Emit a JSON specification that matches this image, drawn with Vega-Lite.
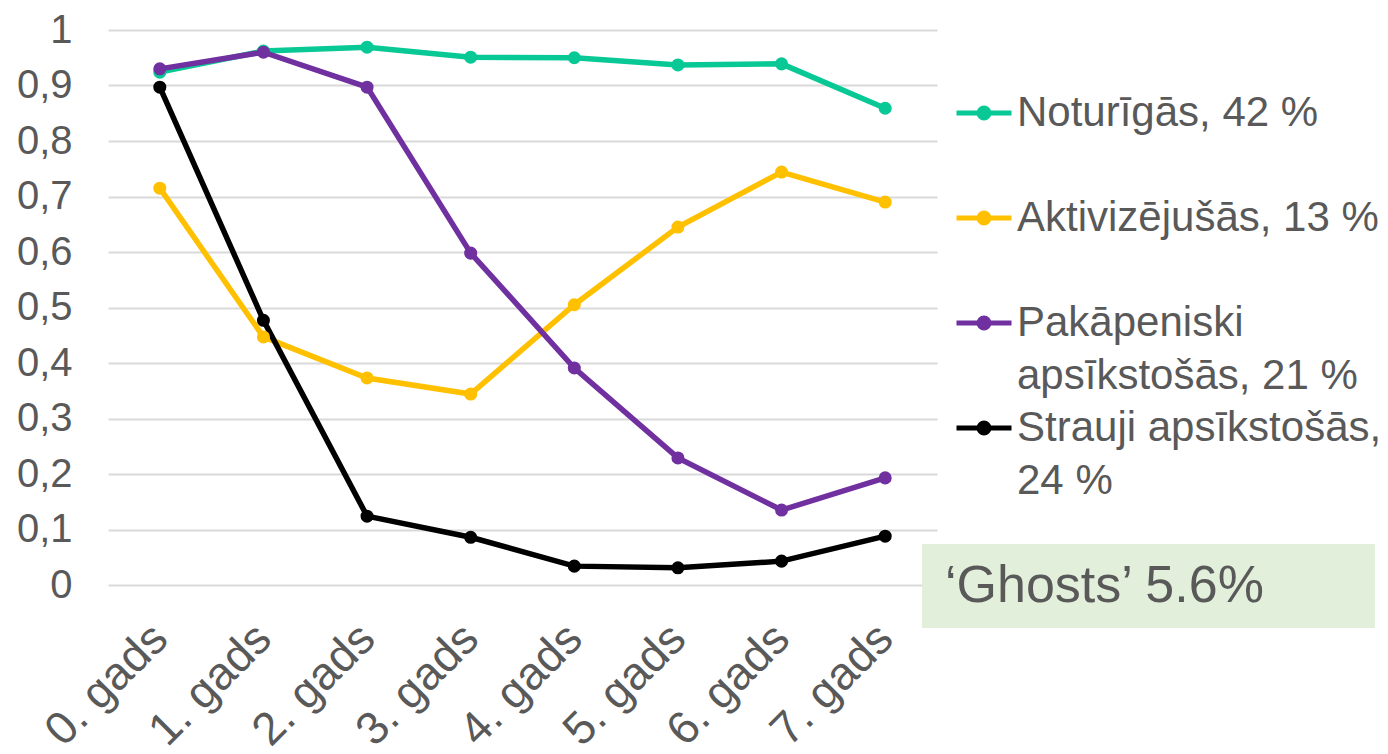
{
  "$schema": "https://vega.github.io/schema/vega-lite/v6.json",
  "width": 829,
  "height": 555,
  "autosize": {"type": "none"},
  "padding": {"left": 108, "top": 30, "right": 451, "bottom": 169},
  "background": "white",
  "config": {
    "view": {"stroke": null},
    "font": "Liberation Sans",
    "legend": {"layout": {"right": {"direction": "vertical", "anchor": "start", "margin": 10}}}
  },
  "layer": [
    {
      "data": {"name": "main", "values": [
        {"year": "0. gads", "series": "Noturīgās, 42 %", "value": 0.924},
        {"year": "1. gads", "series": "Noturīgās, 42 %", "value": 0.962},
        {"year": "2. gads", "series": "Noturīgās, 42 %", "value": 0.969},
        {"year": "3. gads", "series": "Noturīgās, 42 %", "value": 0.951},
        {"year": "4. gads", "series": "Noturīgās, 42 %", "value": 0.950},
        {"year": "5. gads", "series": "Noturīgās, 42 %", "value": 0.937},
        {"year": "6. gads", "series": "Noturīgās, 42 %", "value": 0.939},
        {"year": "7. gads", "series": "Noturīgās, 42 %", "value": 0.859},
        {"year": "0. gads", "series": "Aktivizējušās, 13 %", "value": 0.715},
        {"year": "1. gads", "series": "Aktivizējušās, 13 %", "value": 0.447},
        {"year": "2. gads", "series": "Aktivizējušās, 13 %", "value": 0.373},
        {"year": "3. gads", "series": "Aktivizējušās, 13 %", "value": 0.344},
        {"year": "4. gads", "series": "Aktivizējušās, 13 %", "value": 0.505},
        {"year": "5. gads", "series": "Aktivizējušās, 13 %", "value": 0.645},
        {"year": "6. gads", "series": "Aktivizējušās, 13 %", "value": 0.744},
        {"year": "7. gads", "series": "Aktivizējušās, 13 %", "value": 0.690},
        {"year": "0. gads", "series": "Pakāpeniski apsīkstošās, 21 %", "value": 0.930},
        {"year": "1. gads", "series": "Pakāpeniski apsīkstošās, 21 %", "value": 0.960},
        {"year": "2. gads", "series": "Pakāpeniski apsīkstošās, 21 %", "value": 0.897},
        {"year": "3. gads", "series": "Pakāpeniski apsīkstošās, 21 %", "value": 0.598},
        {"year": "4. gads", "series": "Pakāpeniski apsīkstošās, 21 %", "value": 0.391},
        {"year": "5. gads", "series": "Pakāpeniski apsīkstošās, 21 %", "value": 0.229},
        {"year": "6. gads", "series": "Pakāpeniski apsīkstošās, 21 %", "value": 0.135},
        {"year": "7. gads", "series": "Pakāpeniski apsīkstošās, 21 %", "value": 0.193},
        {"year": "0. gads", "series": "Strauji apsīkstošās, 24 %", "value": 0.897},
        {"year": "1. gads", "series": "Strauji apsīkstošās, 24 %", "value": 0.477},
        {"year": "2. gads", "series": "Strauji apsīkstošās, 24 %", "value": 0.124},
        {"year": "3. gads", "series": "Strauji apsīkstošās, 24 %", "value": 0.086},
        {"year": "4. gads", "series": "Strauji apsīkstošās, 24 %", "value": 0.034},
        {"year": "5. gads", "series": "Strauji apsīkstošās, 24 %", "value": 0.031},
        {"year": "6. gads", "series": "Strauji apsīkstošās, 24 %", "value": 0.043},
        {"year": "7. gads", "series": "Strauji apsīkstošās, 24 %", "value": 0.088}
      ]},
      "layer": [
        {
          "mark": {"type": "line", "strokeWidth": 5.5},
          "encoding": {
            "x": {"field": "year", "type": "nominal", "sort": null,
              "axis": {"title": null, "labelAngle": -45, "labelAlign": "right", "labelBaseline": "middle", "labelFontSize": 46, "labelColor": "#595959", "ticks": false, "domain": false, "grid": false, "labelPadding": 46}},
            "y": {"field": "value", "type": "quantitative", "scale": {"domain": [0, 1], "nice": false},
              "axis": {"title": null, "values": [0, 0.1, 0.2, 0.3, 0.4, 0.5, 0.6, 0.7, 0.8, 0.9, 1], "labelExpr": "replace(format(datum.value, '.1~f'), '.', ',')", "labelFontSize": 40, "labelColor": "#595959", "labelPadding": 36, "ticks": false, "tickSize": 0, "domain": false, "grid": true, "gridColor": "#d9d9d9", "gridWidth": 2}},
            "color": {"field": "series", "type": "nominal",
              "scale": {"domain": ["Noturīgās, 42 %", "Aktivizējušās, 13 %", "Pakāpeniski apsīkstošās, 21 %", "Strauji apsīkstošās, 24 %"], "range": ["#08c896", "#ffc000", "#7030a0", "#000000"]},
              "legend": {
                "title": " ",
                "titleFontSize": 12,
                "titlePadding": 9,
                "offset": -15,
                "padding": 32,
                "symbolType": "M-1,0L1,0M-0.18,0A0.18,0.18,0,1,0,0.18,0A0.18,0.18,0,1,0,-0.18,0Z",
                "symbolSize": 3025,
                "symbolStrokeWidth": 5,
                "labelFontSize": 42,
                "labelColor": "#595959",
                "labelLimit": 0,
                "labelOffset": 3,
                "labelExpr": "datum.label == 'Pakāpeniski apsīkstošās, 21 %' ? ['Pakāpeniski', 'apsīkstošās, 21 %'] : datum.label == 'Strauji apsīkstošās, 24 %' ? ['Strauji apsīkstošās,', '24 %'] : [datum.label, '']",
                "rowPadding": 1,
                "encode": {
                  "symbols": {"update": {"fill": {"scale": "color", "field": "value"}, "stroke": {"scale": "color", "field": "value"}, "strokeWidth": {"value": 5}, "opacity": {"value": 1}}},
                  "labels": {"update": {"lineHeight": {"value": 53}}}
                }
              }}
          }
        },
        {
          "mark": {"type": "point", "filled": true, "size": 170, "opacity": 1},
          "encoding": {
            "x": {"field": "year", "type": "nominal", "sort": null},
            "y": {"field": "value", "type": "quantitative"},
            "color": {"field": "series", "type": "nominal"}
          }
        }
      ]
    },
    {
      "data": {"name": "note", "values": [{"note": "‘Ghosts’ 5.6%"}]},
      "mark": {"type": "point", "opacity": 0},
      "encoding": {
        "shape": {"field": "note", "type": "nominal",
          "legend": {
            "title": null,
            "offset": -15,
            "fillColor": "#e2efda",
            "padding": 16,
            "symbolType": "square",
            "symbolSize": 1,
            "symbolOpacity": 0,
            "symbolStrokeWidth": 0,
            "symbolOffset": 394,
            "labelFontSize": 52,
            "labelColor": "#595959",
            "labelAlign": "left",
            "labelLimit": 0,
            "labelOffset": -439
          }}
      }
    }
  ]
}
